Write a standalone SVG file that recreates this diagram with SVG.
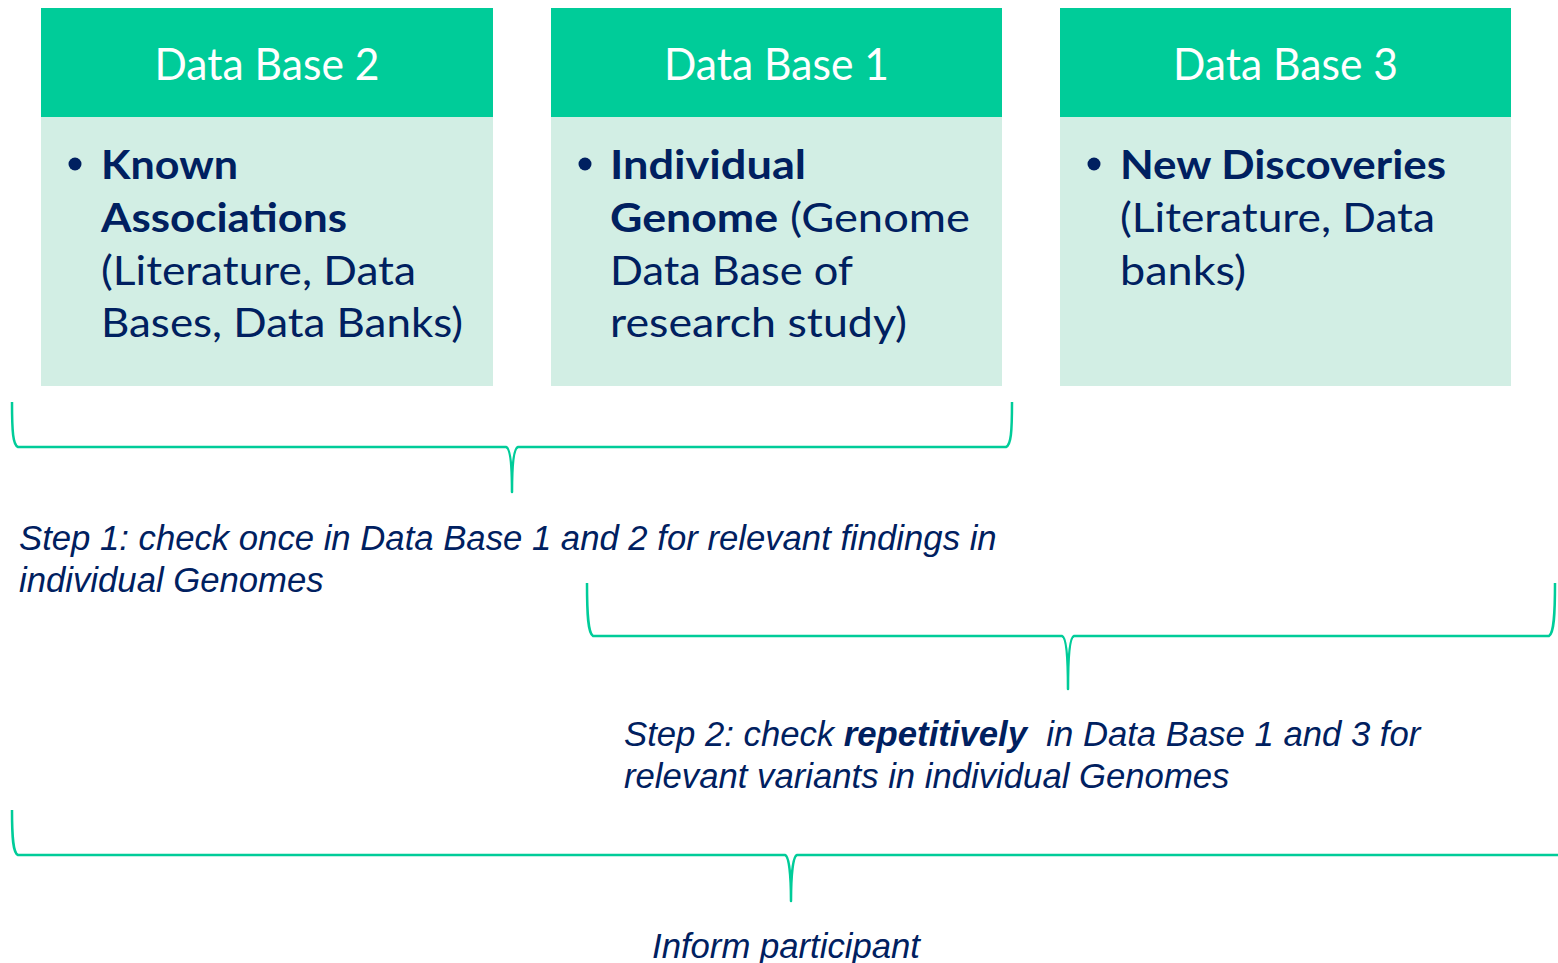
<svg xmlns="http://www.w3.org/2000/svg" width="1558" height="963" viewBox="0 0 1558 963">
<style>
.hdr{fill:#00CC99}
.body{fill:#D2EEE4}
.htxt{font-family:Lato,"Open Sans",sans-serif;font-size:44px;fill:#FFFFFF;text-anchor:middle}
.btxt{font-family:Lato,"Open Sans",sans-serif;font-size:41px;fill:#002060}
.b{font-weight:bold}
.bullet{fill:#002060}
.brace{fill:none;stroke:#00CC99;stroke-width:2.5;stroke-linejoin:round}
.step{font-family:"Liberation Sans",Arial,sans-serif;font-style:italic;font-size:34.7px;fill:#002060}
</style>
<rect width="1558" height="963" fill="#FFFFFF"/>
<g id="db2">
<rect class="body" x="41" y="116" width="452" height="270"/>
<rect class="hdr" x="41" y="8" width="452" height="109"/>
<text class="htxt" x="267" y="80" textLength="225" lengthAdjust="spacingAndGlyphs">Data Base 2</text>
<circle class="bullet" cx="75" cy="164" r="6.5"/>
<text class="btxt b" x="101" y="179" textLength="137" lengthAdjust="spacingAndGlyphs">Known</text>
<text class="btxt b" x="101" y="232" textLength="246" lengthAdjust="spacingAndGlyphs">Associations</text>
<text class="btxt" x="101" y="285" textLength="315" lengthAdjust="spacingAndGlyphs">(Literature, Data</text>
<text class="btxt" x="101" y="337" textLength="362" lengthAdjust="spacingAndGlyphs">Bases, Data Banks)</text>
</g>
<g id="db1">
<rect class="body" x="551" y="116" width="451" height="270"/>
<rect class="hdr" x="551" y="8" width="451" height="109"/>
<text class="htxt" x="776.5" y="80" textLength="225" lengthAdjust="spacingAndGlyphs">Data Base 1</text>
<circle class="bullet" cx="585" cy="164" r="6.5"/>
<text class="btxt b" x="610" y="179" textLength="196" lengthAdjust="spacingAndGlyphs">Individual</text>
<text class="btxt b" x="610" y="232" textLength="168" lengthAdjust="spacingAndGlyphs">Genome</text>
<text class="btxt" x="790" y="232" textLength="180" lengthAdjust="spacingAndGlyphs">(Genome</text>
<text class="btxt" x="610" y="285" textLength="243" lengthAdjust="spacingAndGlyphs">Data Base of</text>
<text class="btxt" x="610" y="337" textLength="297" lengthAdjust="spacingAndGlyphs">research study)</text>
</g>
<g id="db3">
<rect class="body" x="1060" y="116" width="451" height="270"/>
<rect class="hdr" x="1060" y="8" width="451" height="109"/>
<text class="htxt" x="1285.5" y="80" textLength="225" lengthAdjust="spacingAndGlyphs">Data Base 3</text>
<circle class="bullet" cx="1094" cy="164" r="6.5"/>
<text class="btxt b" x="1120" y="179" textLength="326" lengthAdjust="spacingAndGlyphs">New Discoveries</text>
<text class="btxt" x="1120" y="232" textLength="315" lengthAdjust="spacingAndGlyphs">(Literature, Data</text>
<text class="btxt" x="1120" y="285" textLength="126" lengthAdjust="spacingAndGlyphs">banks)</text>
</g>
<g id="connectors">
<path class="brace" d="M12,402 C12,432 13,445 18,447 L506,447 C510,448 512,465 512,492 C512,465 514,448 518,447 L1006,447 C1011,445 1012,432 1012,402"/>
<path class="brace" d="M587,583 C587,615 588,633 593,636 L1062,636 C1066,637 1068,655 1068,689 C1068,655 1070,637 1074,636 L1549,636 C1554,633 1555,615 1555,583"/>
<path class="brace" d="M12,810 C12,838 13,853 18,855 L785,855 C789,856 791,875 791,901 C791,875 793,856 797,855 L1562,855"/>
</g>
<g id="labels">
<text class="step" x="19" y="550">Step 1: check once in Data Base 1 and 2 for relevant findings in</text>
<text class="step" x="19" y="592">individual Genomes</text>
<text class="step" x="624" y="746" xml:space="preserve">Step 2: check <tspan font-weight="bold">repetitively</tspan>  in Data Base 1 and 3 for</text>
<text class="step" x="624" y="788">relevant variants in individual Genomes</text>
<text class="step" x="652" y="958">Inform participant</text>
</g>
</svg>
